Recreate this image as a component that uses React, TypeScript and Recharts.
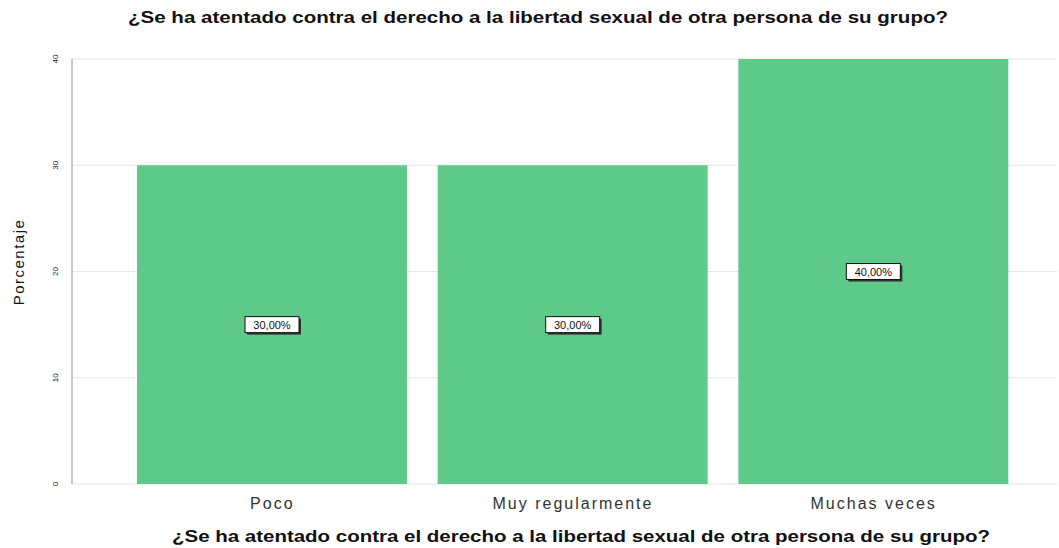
import { BarChart, Bar, XAxis, YAxis, CartesianGrid, LabelList } from 'recharts';

const categories = ['Poco', 'Muy regularmente', 'Muchas veces'];
const percentages = [30, 30, 40];
const yTicks = [0, 10, 20, 30, 40];
const QUESTION = '¿Se ha atentado contra el derecho a la libertad sexual de otra persona de su grupo?';

const data = categories.map((name, i) => ({ name, value: percentages[i] }));

const BAR_COLOR = '#5ECA8A';

function YTick(props: any) {
    const { x, y, payload } = props;
    return (
        <text
            x={x - 6}
            y={y}
            transform={`rotate(-90 ${x - 6} ${y})`}
            textAnchor="middle"
            fontSize={8}
            fill="#222"
            fontFamily="Liberation Sans, Arial, sans-serif"
        >
            {payload.value}
        </text>
    );
}

function ValueBox(props: any) {
    const { x, y, width, height, value } = props;
    const cx = x + width / 2;
    const cy = y + height / 2;
    const w = 54;
    const h = 16;
    return (
        <g>
            <rect x={cx - w / 2 + 2} y={cy - h / 2 + 2} width={w} height={h} fill="#333" />
            <rect x={cx - w / 2} y={cy - h / 2} width={w} height={h} fill="#fff" stroke="#111" strokeWidth={1} />
            <text
                x={cx}
                y={cy + 4}
                textAnchor="middle"
                fontSize={11}
                fill="#111"
                fontFamily="Liberation Sans, Arial, sans-serif"
            >
                {value.toFixed(2).replace('.', ',') + '%'}
            </text>
        </g>
    );
}

export default function App() {
    return (
        <div style={{ position: 'absolute', left: 0, top: 0, width: 1059, height: 548, background: '#fff' }}>
            <BarChart
                width={1059}
                height={548}
                data={data}
                margin={{ top: 59, right: 2, bottom: 34, left: 0 }}
                style={{ fontFamily: 'Liberation Sans, Arial, sans-serif' }}
            >
                <text
                    x={538}
                    y={23}
                    textAnchor="middle"
                    fontSize={16}
                    fontWeight="bold"
                    fill="#111"
                    textLength={820}
                    lengthAdjust="spacingAndGlyphs"
                >
                    {QUESTION}
                </text>
                <text
                    x={581}
                    y={542}
                    textAnchor="middle"
                    fontSize={16}
                    fontWeight="bold"
                    fill="#111"
                    textLength={818}
                    lengthAdjust="spacingAndGlyphs"
                >
                    {QUESTION}
                </text>
                <text
                    x={24}
                    y={262}
                    transform="rotate(-90 24 262)"
                    textAnchor="middle"
                    fontSize={15}
                    letterSpacing={1.5}
                    fill="#111"
                >
                    Porcentaje
                </text>
                <CartesianGrid vertical={false} stroke="#e6e6e6" />
                <XAxis
                    dataKey="name"
                    padding={{ left: 50, right: 33 }}
                    axisLine={false}
                    tickLine={false}
                    tick={{ fontSize: 16, fill: '#333', letterSpacing: 2 }}
                    tickMargin={8}
                />
                <YAxis
                    width={72}
                    domain={[0, 40]}
                    ticks={yTicks}
                    axisLine={{ stroke: '#c8c8c8', strokeWidth: 2 }}
                    tickLine={false}
                    tick={<YTick />}
                />
                <Bar dataKey="value" fill={BAR_COLOR} barSize={270} isAnimationActive={false}>
                    <LabelList dataKey="value" content={<ValueBox />} />
                </Bar>
            </BarChart>
        </div>
    );
}
